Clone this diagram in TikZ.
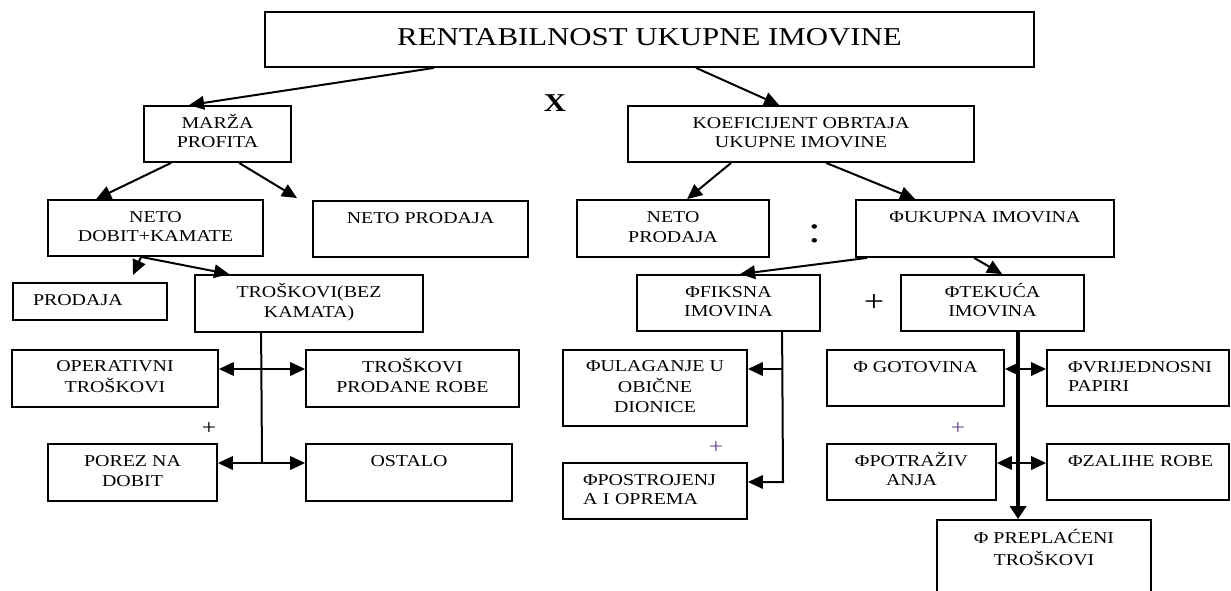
\documentclass[tikz,border=0pt]{standalone}
\usepackage{fontspec}
\setmainfont{Liberation Serif}[FakeStretch=1.2]
\usetikzlibrary{arrows.meta}
\definecolor{plusviolet}{RGB}{105,70,145}
\begin{document}
\begin{tikzpicture}[x=1pt,y=-1pt,
  box/.style={draw, line width=1.8pt, inner sep=0pt, align=center, font=\fontsize{16.6}{19.5}\selectfont},
  lbox/.style={box, align=left},
  arr/.style={line width=2pt, line join=miter, -{Triangle[length=15pt,width=13.5pt]}},
  link/.style={line width=2pt},
  thick arrow/.style={line width=4pt, -{Triangle[length=13pt,width=16pt]}},
  sign/.style={inner sep=0pt}]
\fill[white] (0,0) rectangle (1231,590);
\useasboundingbox (0,0) rectangle (1231,590);
\clip (0,0) rectangle (1231,590);

% boxes
\node[box, minimum width=769pt, minimum height=55pt, font=\fontsize{25.7}{30}\selectfont] (top) at (649.5,39.5) {\strut RENTABILNOST UKUPNE IMOVINE};
\node[box, minimum width=147pt, minimum height=56pt] (marza) at (217.5,134) {\strut MARŽA\\\strut PROFITA};
\node[box, minimum width=215pt, minimum height=56pt] (netodobit) at (155.5,228) {\strut NETO\\\strut DOBIT+KAMATE};
\node[box, minimum width=215pt, minimum height=56pt] (netoprodajaL) at (420.5,229) {\strut NETO PRODAJA\\\strut};
\node[lbox, text width=114pt, minimum width=154pt, minimum height=37pt] (prodaja) at (90,301.5) {\strut PRODAJA};
\node[box, minimum width=228pt, minimum height=57pt] (troskovi) at (309,303.5) {\strut TROŠKOVI(BEZ\\\strut KAMATA)};
\node[box, minimum width=206pt, minimum height=57pt] (operativni) at (115,378.5) {\strut OPERATIVNI\\\strut TROŠKOVI};
\node[box, minimum width=213pt, minimum height=57pt] (prodane) at (412.5,378.5) {\strut TROŠKOVI\\\strut PRODANE ROBE};
\node[box, minimum width=169pt, minimum height=57pt] (porez) at (132.5,472.5) {\strut POREZ NA\\\strut DOBIT};
\node[box, minimum width=206pt, minimum height=57pt] (ostalo) at (409,472.5) {\strut OSTALO\\\strut};

\node[box, minimum width=346pt, minimum height=56pt] (koef) at (801,134) {\strut KOEFICIJENT OBRTAJA\\\strut UKUPNE IMOVINE};
\node[box, minimum width=192pt, minimum height=57pt] (netoprodajaR) at (673,228.5) {\strut NETO\\\strut PRODAJA};
\node[box, minimum width=258pt, minimum height=57pt] (ukupna) at (985,228.5) {\strut ΦUKUPNA IMOVINA\\\strut};
\node[box, minimum width=183pt, minimum height=56pt] (fiksna) at (728.5,303) {\strut ΦFIKSNA\\\strut IMOVINA};
\node[box, minimum width=183pt, minimum height=56pt] (tekuca) at (992.5,303) {\strut ΦTEKUĆA\\\strut IMOVINA};
\node[box, minimum width=184pt, minimum height=76pt] (ulaganje) at (655,388) {\strut ΦULAGANJE U\\\strut OBIČNE\\\strut DIONICE};
\node[lbox, text width=144pt, minimum width=184pt, minimum height=56pt] (postrojenja) at (655,491) {\strut ΦPOSTROJENJ\\\strut A I OPREMA};
\node[box, minimum width=177pt, minimum height=56pt] (gotovina) at (915.5,378) {\strut Φ GOTOVINA\\\strut};
\node[lbox, text width=140pt, minimum width=182pt, minimum height=56pt] (vrijednosni) at (1138,378) {\strut\mbox{ΦVRIJEDNOSNI}\\\strut PAPIRI};
\node[box, minimum width=169pt, minimum height=56pt] (potrazivanja) at (911.5,472) {\strut ΦPOTRAŽIV\\\strut ANJA};
\node[lbox, text width=140pt, minimum width=182pt, minimum height=56pt] (zalihe) at (1138,472) {\strut\mbox{ΦZALIHE ROBE}\\\strut};
\node[box, minimum width=214pt, minimum height=80pt] (preplaceni) at (1044,560) {\strut Φ PREPLAĆENI\\\strut TROŠKOVI\\\strut};

% operators
\node[sign, font=\fontsize{25.7}{30}\selectfont\bfseries] (times) at (555,103) {X};
\node[sign, font=\fontsize{38}{40}\selectfont] (colon) at (815,234) {:};
\node[sign, font=\fontsize{30}{32}\selectfont] (plusA) at (874,303) {+};
\node[sign, font=\fontsize{21}{24}\selectfont] (plusB) at (209,429) {+};
\node[sign, font=\fontsize{21}{24}\selectfont, text=plusviolet] (plusC) at (716,448) {+};
\node[sign, font=\fontsize{21}{24}\selectfont, text=plusviolet] (plusD) at (958,429) {+};

% top level connectors
\draw[arr] ([xshift=170pt]top.south west) -- ([xshift=46pt]marza.north west);
\draw[arr] ([xshift=432pt]top.south west) -- ([xshift=152pt]koef.north west);

% left branch
\coordinate (mpTip) at (297,198);
\draw[arr] ([xshift=28pt]marza.south west) -- ([xshift=49pt]netodobit.north west);
\draw[arr] ([xshift=96pt]marza.south west) -- (mpTip);
\coordinate (ndOut) at ([xshift=94pt]netodobit.south west);
\coordinate (prTip) at (133,275);
\draw[arr] (ndOut) -- (prTip);
\draw[arr] (ndOut) -- ([xshift=35pt]troskovi.north west);

\coordinate (tv) at ([xshift=67pt]troskovi.south west);
\coordinate (t1) at (262,369);
\coordinate (t2) at (262,463);
\draw[link] (tv) -- (t2);
\draw[arr] (t1) -- (t1 -| operativni.east);
\draw[arr] (t1) -- (t1 -| prodane.west);
\draw[arr] (t2) -- (t2 -| porez.east);
\draw[arr] (t2) -- (t2 -| ostalo.west);

% right branch
\draw[arr] ([xshift=104pt]koef.south west) -- ([xshift=111pt]netoprodajaR.north west);
\draw[arr] ([xshift=199pt]koef.south west) -- ([xshift=60pt]ukupna.north west);
\draw[arr] ([xshift=12pt]ukupna.south west) -- ([xshift=104pt]fiksna.north west);
\draw[arr] ([xshift=119pt]ukupna.south west) -- ([xshift=102pt]tekuca.north west);

\coordinate (fv) at ([xshift=146pt]fiksna.south west);
\coordinate (f1) at (783,369);
\coordinate (f2) at (783,482);
\draw[arr] (fv) -- (f2) -- (f2 -| postrojenja.east);
\draw[arr] (f1) -- (f1 -| ulaganje.east);

\coordinate (kv) at ([xshift=118pt]tekuca.south west);
\coordinate (k1) at (1019,369);
\coordinate (k2) at (1019,463);
\draw[thick arrow] (kv) -- (kv |- preplaceni.north);
\draw[arr] (k1) -- (k1 -| gotovina.east);
\draw[arr] (k1) -- (k1 -| vrijednosni.west);
\draw[arr] (k2) -- (k2 -| potrazivanja.east);
\draw[arr] (k2) -- (k2 -| zalihe.west);
\end{tikzpicture}
\end{document}
